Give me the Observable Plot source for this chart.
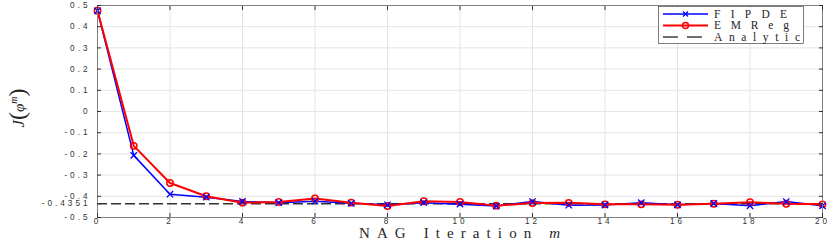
<!DOCTYPE html>
<html><head><meta charset="utf-8">
<script src="https://cdn.jsdelivr.net/npm/d3@7"></script>
<script src="https://cdn.jsdelivr.net/npm/@observablehq/plot@0.6"></script>
<style>body{margin:0;background:#fff} svg{display:block}</style>
</head><body><div id="chart"></div>
<script>
const iterations = [0,1,2,3,4,5,6,7,8,9,10,11,12,13,14,15,16,17,18,19,20];
const fipde = [0.475,-0.207,-0.390,-0.404,-0.424,-0.430,-0.423,-0.433,-0.440,-0.430,-0.437,-0.446,-0.425,-0.442,-0.441,-0.430,-0.440,-0.434,-0.445,-0.425,-0.445];
const emreg = [0.475,-0.162,-0.337,-0.400,-0.430,-0.427,-0.410,-0.430,-0.446,-0.423,-0.427,-0.444,-0.432,-0.431,-0.438,-0.438,-0.440,-0.435,-0.428,-0.435,-0.438];
const analytic = -0.4351;
const xTicks = [0,2,4,6,8,10,12,14,16,18,20];
const yTicks = [-0.5,-0.4351,-0.4,-0.3,-0.2,-0.1,0,0.1,0.2,0.3,0.4,0.5];
const yTickLabels = ["-0.5","-0.4351","-0.4","-0.3","-0.2","-0.1","0","0.1","0.2","0.3","0.4","0.5"];
const seriesNames = ["FIPDE","EMReg","Analytic"];
const xLabel = "NAG Iteration ";

const data = iterations.map((m,i)=>({m, fipde:fipde[i], emreg:emreg[i]}));

const plot = Plot.plot({
  width:830, height:240, marginLeft:97, marginRight:8, marginTop:5, marginBottom:23,
  style:{fontFamily:"'Liberation Sans', Arial, sans-serif", fontSize:"8.2px", letterSpacing:"3px", color:"#333", background:"#fff"},
  x:{domain:[0,20]},
  y:{domain:[-0.5,0.5]},
  marks:[
    Plot.gridX(xTicks,{stroke:"#e4e4e4", strokeOpacity:1}),
    Plot.gridY(yTicks.filter(d=>d!==analytic),{stroke:"#e4e4e4", strokeOpacity:1}),
    Plot.ruleY([analytic],{x1:0,x2:20, stroke:"#333", strokeWidth:1.4, strokeDasharray:"10,4"}),
    Plot.line(data,{x:"m",y:"fipde",stroke:"#0000ff",strokeWidth:1.5}),
    Plot.line(data,{x:"m",y:"emreg",stroke:"#ff0000",strokeWidth:2}),
    Plot.dot(data,{x:"m",y:"emreg",r:3.2,stroke:"#ff0000",strokeWidth:1.5,fill:"none"}),
    Plot.dot(data,{x:"m",y:"fipde",symbol:"times",r:3,stroke:"#0000ff",strokeWidth:1.3}),
    Plot.frame({stroke:"#808080"}),
    Plot.axisX({ticks:xTicks, anchor:"bottom", tickSize:-4, tickPadding:5, label:null, tickFormat:d=>String(d)}),
    Plot.axisX({ticks:xTicks, anchor:"top", tickSize:-4, label:null, tickFormat:()=>""}),
    Plot.axisY({ticks:yTicks, anchor:"left", tickSize:-4, tickPadding:11, label:null, tickFormat:d=>yTickLabels[yTicks.indexOf(d)]}),
    Plot.axisY({ticks:yTicks, anchor:"right", tickSize:-4, label:null, tickFormat:()=>""})
  ]
});
document.getElementById("chart").appendChild(plot);

const svg = d3.select(plot);
const serif = "'Liberation Serif', 'DejaVu Serif', serif";

// x label
const xl = svg.append("text").attr("x",359).attr("y",238).attr("text-anchor","start")
  .attr("font-family",serif).attr("font-size",15).style("letter-spacing","0px").attr("fill","#262626")
  .attr("textLength",201).attr("lengthAdjust","spacing");
xl.append("tspan").text(xLabel);
xl.append("tspan").attr("font-style","italic").text("m");

// y label
const yl = svg.append("text").attr("transform","translate(24,108) rotate(-90)").attr("text-anchor","middle")
  .attr("font-family",serif).attr("fill","#262626").style("letter-spacing","0px");
yl.append("tspan").attr("font-style","italic").attr("font-size",17).text("J");
yl.append("tspan").attr("font-size",24).attr("dy",1).text("(");
yl.append("tspan").attr("font-style","italic").attr("font-size",15).attr("dy",-1).text("φ");
yl.append("tspan").attr("font-style","italic").attr("font-size",10).attr("dy",-7).text("m");
yl.append("tspan").attr("font-size",24).attr("dy",8).text(")");

// legend
const lg = svg.append("g");
lg.append("rect").attr("x",658.5).attr("y",6.5).attr("width",145).attr("height",37)
  .attr("fill","#fff").attr("stroke","#262626").attr("stroke-width",0.6);
const rows = [
  {y:14, color:"#0000ff", w:1.5, dash:null, marker:"x"},
  {y:25.5, color:"#ff0000", w:2, dash:null, marker:"o"},
  {y:37, color:"#404040", w:1.4, dash:"15,9", marker:null}
];
const textWidths = [73, 75, 86];
rows.forEach((r,i)=>{
  const ln = lg.append("line").attr("x1",663).attr("x2",708).attr("y1",r.y).attr("y2",r.y)
    .attr("stroke",r.color).attr("stroke-width",r.w);
  if (r.dash) ln.attr("stroke-dasharray",r.dash);
  if (r.marker==="o") lg.append("circle").attr("cx",685.5).attr("cy",r.y).attr("r",3).attr("fill","none").attr("stroke",r.color).attr("stroke-width",1.5);
  if (r.marker==="x") lg.append("path").attr("d",`M${683},${r.y-2.5}L${688},${r.y+2.5}M${683},${r.y+2.5}L${688},${r.y-2.5}`).attr("stroke",r.color).attr("stroke-width",1.3);
  lg.append("text").attr("x",714).attr("y",r.y+3.8).attr("text-anchor","start").attr("font-family",serif).attr("font-size",11.5)
    .attr("fill","#262626").style("letter-spacing","0px")
    .attr("textLength",textWidths[i]).attr("lengthAdjust","spacing").text(seriesNames[i]);
});
</script>
</body></html>
